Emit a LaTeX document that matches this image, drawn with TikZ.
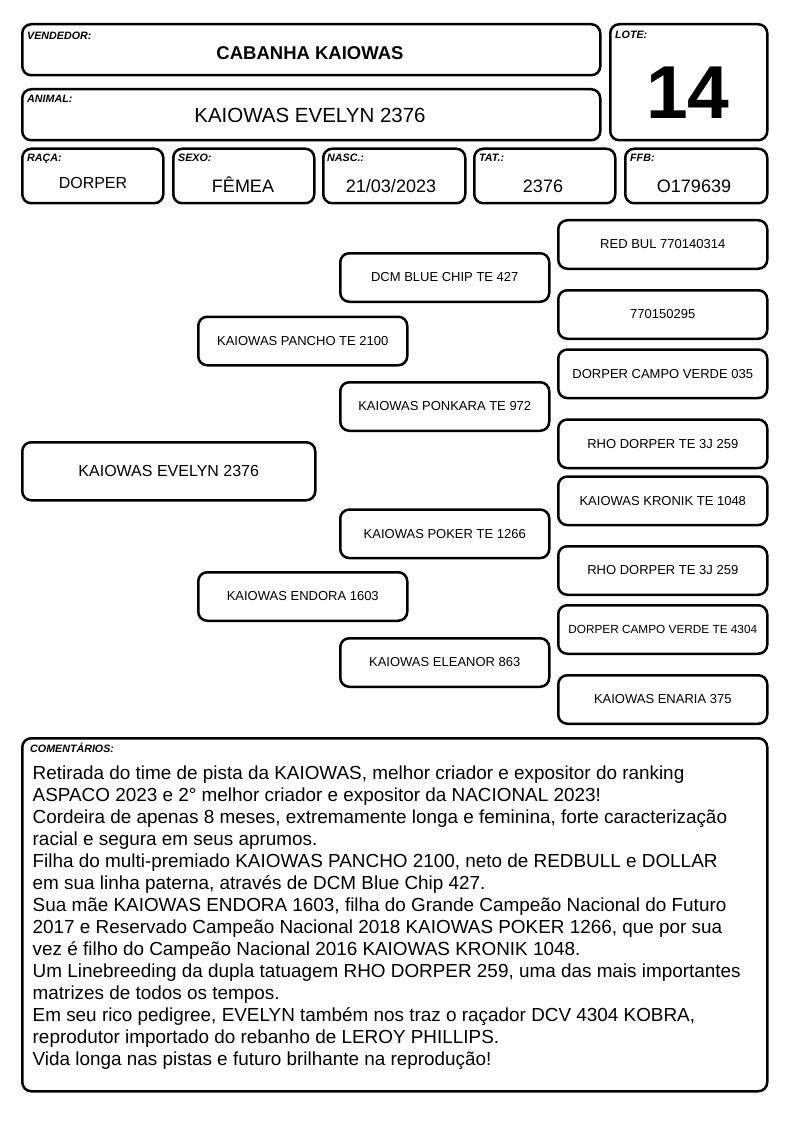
\documentclass[tikz,border=0pt]{standalone}
\usepackage{fontspec}
\setmainfont{Liberation Sans}
\begin{document}
\begin{tikzpicture}[x=1pt,y=-1pt,
  box/.style={draw, line width=2.5pt, rounded corners=9pt, inner sep=0pt, anchor=north west},
  lab/.style={anchor=base west, inner sep=0pt, font=\fontsize{10.7}{12}\selectfont\bfseries\itshape},
  ped/.style={box, minimum width=209pt, minimum height=48.5pt, font=\fontsize{13}{15}\selectfont},
  val/.style={anchor=base, inner sep=0pt},
  rowbox/.style={box, minimum width=141pt, minimum height=54.5pt}]
\useasboundingbox (0,0) rectangle (794,1123);
% header
\node[box, minimum width=578pt, minimum height=51pt] (vend) at (21,23) {};
\node[lab] (vendl) at (27,39.5) {VENDEDOR:};
\node[val, font=\fontsize{18.5}{20}\selectfont\bfseries] (vendv) at (310,60) {CABANHA KAIOWAS};
\node[box, minimum width=578pt, minimum height=51pt] (anim) at (21,88) {};
\node[lab] (animl) at (27,103) {ANIMAL:};
\node[val, font=\fontsize{20.5}{22}\selectfont] (animv) at (310,122.7) {KAIOWAS EVELYN 2376};
\node[box, minimum width=157pt, minimum height=116pt] (lote) at (609,23) {};
\node[lab] (lotel) at (615,38.5) {LOTE:};
\node[val, font=\fontsize{75}{80}\selectfont\bfseries] (lotev) at (688,118.3) {14};
% row 3
\node[rowbox] (raca) at (21,147.5) {};
\node[lab] (racal) at (27,162) {RAÇA:};
\node[val, font=\fontsize{16}{18}\selectfont] (racav) at (93,188.3) {DORPER};
\node[rowbox] (sexo) at (172,147.5) {};
\node[lab] (sexol) at (178,162) {SEXO:};
\node[val, font=\fontsize{18}{20}\selectfont] (sexov) at (243,192.7) {FÊMEA};
\node[rowbox, minimum width=142pt] (nasc) at (322,147.5) {};
\node[lab] (nascl) at (327,162) {NASC.:};
\node[val, font=\fontsize{18}{20}\selectfont] (nascv) at (391,192.7) {21/03/2023};
\node[rowbox] (tat) at (473,147.5) {};
\node[lab] (tatl) at (479,162) {TAT.:};
\node[val, font=\fontsize{18}{20}\selectfont] (tatv) at (543,192.7) {2376};
\node[rowbox, minimum width=142pt] (ffb) at (624,147.5) {};
\node[lab] (ffbl) at (630,162) {FFB:};
\node[val, font=\fontsize{18}{20}\selectfont] (ffbv) at (694,192.7) {O179639};
% pedigree
\node[box, minimum width=293pt, minimum height=58pt, font=\fontsize{16}{18}\selectfont] (g0) at (21,441) {KAIOWAS EVELYN 2376};
\node[ped] (g1a) at (197,315.5) {KAIOWAS PANCHO TE 2100};
\node[ped] (g1b) at (197,571) {KAIOWAS ENDORA 1603};
\node[ped] (g2a) at (339,252) {DCM BLUE CHIP TE 427};
\node[ped] (g2b) at (339,381) {KAIOWAS PONKARA TE 972};
\node[ped] (g2c) at (339,508.3) {KAIOWAS POKER TE 1266};
\node[ped] (g2d) at (339,637) {KAIOWAS ELEANOR 863};
\node[ped] (g3a) at (557,219) {RED BUL 770140314};
\node[ped] (g3b) at (557,289) {770150295};
\node[ped] (g3c) at (557,348.3) {DORPER CAMPO VERDE 035};
\node[ped] (g3d) at (557,418.3) {RHO DORPER TE 3J 259};
\node[ped] (g3e) at (557,475.3) {KAIOWAS KRONIK TE 1048};
\node[ped] (g3f) at (557,545) {RHO DORPER TE 3J 259};
\node[ped, font=\fontsize{11.8}{14}\selectfont] (g3g) at (557,604) {DORPER CAMPO VERDE TE 4304};
\node[ped] (g3h) at (557,674) {KAIOWAS ENARIA 375};
% comments
\node[box, minimum width=745pt, minimum height=353pt] (com) at (21,737) {};
\node[lab] (coml) at (30,752.7) {COMENTÁRIOS:};
\node[anchor=base west, inner sep=0pt, font=\fontsize{18.9}{22}\selectfont] (comtext) at (32.5,779) {\begin{tabular}[t]{@{}l@{}}
Retirada do time de pista da KAIOWAS, melhor criador e expositor do ranking\\
ASPACO 2023 e 2° melhor criador e expositor da NACIONAL 2023!\\
Cordeira de apenas 8 meses, extremamente longa e feminina, forte caracterização\\
racial e segura em seus aprumos.\\
Filha do multi-premiado KAIOWAS PANCHO 2100, neto de REDBULL e DOLLAR\\
em sua linha paterna, através de DCM Blue Chip 427.\\
Sua mãe KAIOWAS ENDORA 1603, filha do Grande Campeão Nacional do Futuro\\
2017 e Reservado Campeão Nacional 2018 KAIOWAS POKER 1266, que por sua\\
vez é filho do Campeão Nacional 2016 KAIOWAS KRONIK 1048.\\
Um Linebreeding da dupla tatuagem RHO DORPER 259, uma das mais importantes\\
matrizes de todos os tempos.\\
Em seu rico pedigree, EVELYN também nos traz o raçador DCV 4304 KOBRA,\\
reprodutor importado do rebanho de LEROY PHILLIPS.\\
Vida longa nas pistas e futuro brilhante na reprodução!
\end{tabular}};
\end{tikzpicture}
\end{document}
